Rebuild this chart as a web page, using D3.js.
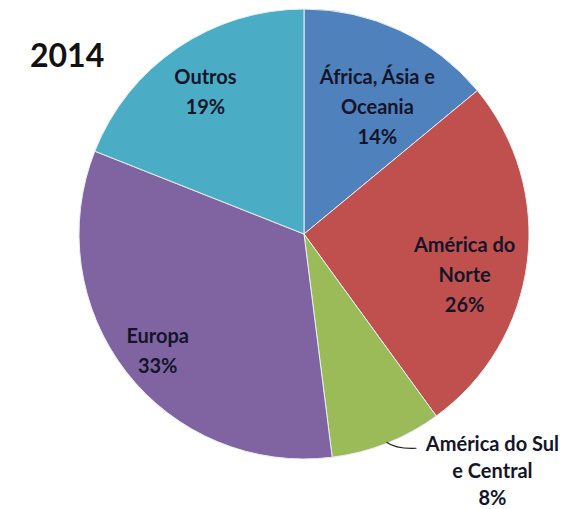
<!DOCTYPE html>
<html>
<head>
<meta charset="utf-8">
<script src="https://cdn.jsdelivr.net/npm/d3@7"></script>
<style>
  body { margin: 0; background: #fff; }
  text { font-family: Lato, "Open Sans", sans-serif; font-weight: bold; }
</style>
</head>
<body>
<svg width="574" height="509"></svg>
<script>
var regions = ["África, Ásia e Oceania", "América do Norte", "América do Sul e Central", "Europa", "Outros"];
var shares = [14, 26, 8, 33, 19];
var labelLines = [["África, Ásia e", "Oceania", "14%"], ["América do", "Norte", "26%"], ["América do Sul", "e Central", "8%"], ["Europa", "33%"], ["Outros", "19%"]];
var colors = ["#4f81bd", "#c0504d", "#9bbb59", "#8064a2", "#4bacc6"];
var year = "2014";

var svg = d3.select("svg"),
    cx = 304, cy = 234, radius = 225;

var combination = [];
for (i = 0; i < regions.length; i++) {
    combination.push({name: regions[i], value: shares[i], lines: labelLines[i], color: colors[i]});
}

var pie = d3.pie().sort(null).value(function(d){ return d.value; });
var arc = d3.arc().innerRadius(0).outerRadius(radius);
var labelArc = d3.arc().innerRadius(170).outerRadius(170);

var g = svg.append("g").attr("transform", "translate(" + cx + "," + cy + ")");
var arcs = pie(combination);

g.selectAll("path")
    .data(arcs)
    .enter()
    .append("path")
    .attr("d", arc)
    .style("fill", function(d){ return d.data.color; })
    .style("stroke", "#e8eef4")
    .style("stroke-width", 1);

// small nudges to mimic excel's best-fit placement
var nudge = {0: [1, 27], 1: [-8, 20], 3: [-12, 13], 4: [-3, -1]};

arcs.forEach(function(d, i) {
    var c, lines = d.data.lines, lh = 30;
    if (d.data.value < 10) {
        // outside label with leader line
        var mid = (d.startAngle + d.endAngle) / 2;
        var p0 = [Math.sin(mid) * (radius - 1), -Math.cos(mid) * (radius - 1)];
        var p1 = [p0[0] + 30, p0[1] + 6];
        g.append("path")
            .attr("d", "M" + p0[0] + "," + p0[1] + " Q" + (p0[0] + 10) + "," + (p1[1] + 1) + " " + p1[0] + "," + p1[1])
            .style("fill", "none")
            .style("stroke", "#222")
            .style("stroke-width", 1.2);
        c = [p1[0] + 76, p1[1] + 23];
        lh = 27;
    } else {
        c = labelArc.centroid(d);
        var n = nudge[i] || [0, 0];
        c = [c[0] + n[0], c[1] + n[1]];
    }
    var t = g.append("text")
        .attr("text-anchor", "middle")
        .attr("fill", "#15152a")
        .style("font-size", "20px");
    lines.forEach(function(s, k) {
        t.append("tspan")
            .attr("x", c[0])
            .attr("y", c[1] + (k - (lines.length - 1) / 2) * lh)
            .attr("dy", "0.35em")
            .text(s);
    });
});

svg.append("text")
    .attr("x", 30)
    .attr("y", 67)
    .attr("fill", "#111")
    .style("font-size", "32px")
    .text(year);
</script>
</body>
</html>
